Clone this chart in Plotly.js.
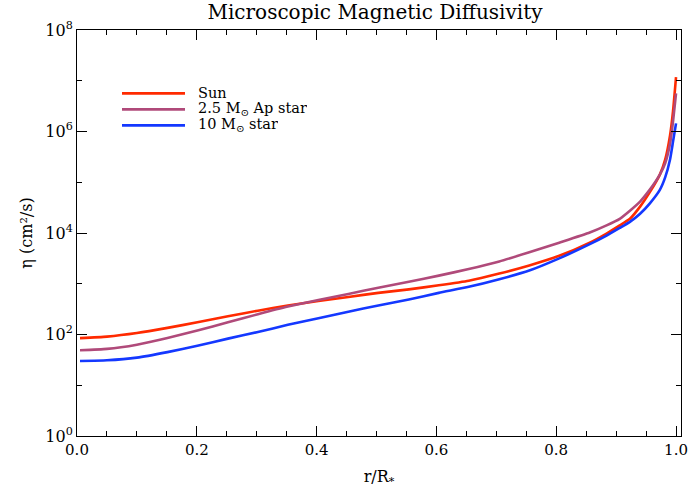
<!DOCTYPE html>
<html>
<head>
<meta charset="utf-8">
<script src="https://cdn.plot.ly/plotly-3.0.1.min.js"></script>
<style>html,body{margin:0;padding:0;background:#fff;}#chart{width:689px;height:493px;}</style>
</head>
<body>
<div id="chart"></div>
<script>
// radius r/R*
const radius = [0.005, 0.05, 0.1, 0.151, 0.201, 0.252, 0.302, 0.352, 0.403, 0.453, 0.503, 0.554, 0.604, 0.654, 0.705, 0.755, 0.805, 0.856, 0.884, 0.906, 0.923, 0.94, 0.956, 0.973, 0.982, 0.99, 0.995, 1.0];
// eta (cm^2/s)
const etaSun = [85, 91, 107, 135, 174, 229, 295, 372, 457, 550, 661, 776, 933, 1148, 1585, 2291, 3548, 6457, 9772, 14130, 19050, 33110, 63100, 141300, 281800, 831800, 2512000, 11750000];
const etaAp  = [49, 52, 63, 85, 120, 174, 251, 355, 479, 631, 832, 1096, 1445, 1950, 2754, 4169, 6457, 10230, 14130, 19050, 27540, 41690, 70790, 141300, 239900, 575400, 1585000, 5623000];
const eta10  = [30, 31, 35, 45, 60, 83, 112, 155, 209, 282, 372, 490, 661, 871, 1230, 1820, 3162, 6026, 8913, 12590, 16600, 23990, 38020, 70790, 125900, 281800, 631000, 1445000];
const seriesNames = ["Sun", "2.5 M<sub>⊙</sub> Ap star", "10 M<sub>⊙</sub> star"];
const seriesColors = ["#ff2a00", "#b04a7a", "#1438ff"];
const xTickVals = [0, 0.2, 0.4, 0.6, 0.8, 1.0];
const xTickText = ["0.0", "0.2", "0.4", "0.6", "0.8", "1.0"];
const xMinorVals = [0.05, 0.1, 0.15, 0.25, 0.3, 0.35, 0.45, 0.5, 0.55, 0.65, 0.7, 0.75, 0.85, 0.9, 0.95];
const yTickVals = [1, 100, 1e4, 1e6, 1e8];
const yTickText = ["10<sup>0</sup>", "10<sup>2</sup>", "10<sup>4</sup>", "10<sup>6</sup>", "10<sup>8</sup>"];
const yMinorVals = [10, 1000, 1e5, 1e7];

const font = "DejaVu Serif, Liberation Serif, serif";
const W = 689, H = 493;
const L = 77, R = 681, T = 29.5, B = 436;
const px = x => (x - L) / (R - L);
const py = y => (B - y) / (B - T);

const seriesData = [etaSun, etaAp, eta10];
const traces = seriesData.map((d, i) => ({
  x: radius, y: d, type: "scatter", mode: "lines",
  line: {color: seriesColors[i], width: 2.6, shape: "spline", smoothing: 0.5},
  name: seriesNames[i], showlegend: false
}));

const shapes = [], annotations = [];
const legY = [93, 109, 125];
seriesNames.forEach((n, i) => {
  shapes.push({type: "line", xref: "paper", yref: "paper", x0: px(122), x1: px(185), y0: py(legY[i]), y1: py(legY[i]),
    line: {color: seriesColors[i], width: 2.6}});
  annotations.push({xref: "paper", yref: "paper", x: px(196), y: py(legY[i]), xanchor: "left", yanchor: "middle",
    height: 14, valign: "middle",
    text: n, showarrow: false, font: {family: font, size: 14.5, color: "#000"}});
});

const layout = {
  width: W, height: H,
  margin: {l: L, r: W - R, t: T, b: H - B, pad: 0},
  paper_bgcolor: "#fff", plot_bgcolor: "#fff",
  font: {family: font, size: 15, color: "#000"},
  title: {text: "Microscopic Magnetic Diffusivity", font: {family: font, size: 20, color: "#000"}, x: 375 / W, xanchor: "center", y: 1 - 12 / H, yanchor: "middle"},
  xaxis: {
    range: [0, 1.0083], tickmode: "array", tickvals: xTickVals, ticktext: xTickText,
    ticks: "inside", ticklen: 10, tickwidth: 1, tickcolor: "#000", ticklabeloverflow: "allow",
    showline: true, linecolor: "#000", linewidth: 1, mirror: "allticks",
    showgrid: false, zeroline: false,
    minor: {tickmode: "array", tickvals: xMinorVals, ticks: "inside", ticklen: 5, tickcolor: "#000", showgrid: false},
    tickfont: {family: font, size: 15, color: "#000"},
    title: {text: "r/R<sub>*</sub>", font: {family: font, size: 16, color: "#000"}, standoff: 12}
  },
  yaxis: {
    type: "log", range: [0, 8], tickmode: "array", tickvals: yTickVals, ticktext: yTickText,
    ticks: "inside", ticklen: 10, tickwidth: 1, tickcolor: "#000",
    showline: true, linecolor: "#000", linewidth: 1, mirror: "allticks",
    showgrid: false, zeroline: false,
    minor: {tickmode: "array", tickvals: yMinorVals, ticks: "inside", ticklen: 5, tickcolor: "#000", showgrid: false},
    tickfont: {family: font, size: 16, color: "#000"},
    title: {text: "η (cm²/s)", font: {family: font, size: 16, color: "#000"}, standoff: 8}
  },
  shapes: shapes, annotations: annotations, showlegend: false
};

Plotly.newPlot("chart", traces, layout, {displayModeBar: false, staticPlot: true});
</script>
</body>
</html>
